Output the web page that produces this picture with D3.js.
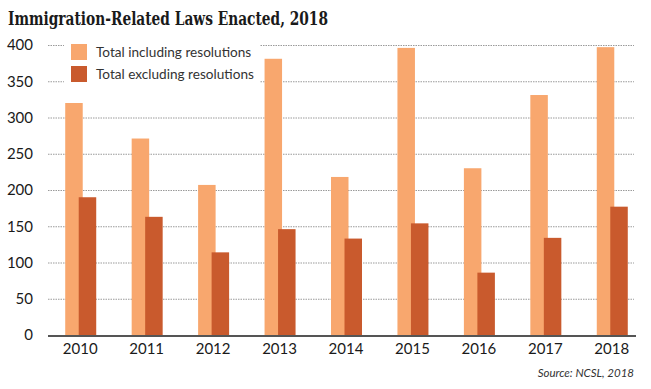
<!DOCTYPE html>
<html>
<head>
<meta charset="utf-8">
<script src="https://cdn.jsdelivr.net/npm/d3@7"></script>
<style>
    body { margin: 0; background: #fff; }
    svg { display: block; }
</style>
</head>
<body>
<svg id="chart" width="651" height="389"></svg>
<script>
/* chart data */
const years = ["2010", "2011", "2012", "2013", "2014", "2015", "2016", "2017", "2018"];
const totalIncluding = [320, 271, 207, 381, 218, 396, 230, 331, 397];
const totalExcluding = [190, 163, 114, 146, 133, 154, 86, 134, 177];
const yTicks = [0, 50, 100, 150, 200, 250, 300, 350, 400];
const seriesNames = ["Total including resolutions", "Total excluding resolutions"];

const colors = { light: "#F8A76E", dark: "#C95A2D" };
const font = "Lato, 'Open Sans', sans-serif";

const svg = d3.select("#chart");

const x = d3
    .scaleBand()
    .domain(years)
    .range([47, 645])
    .paddingInner(0)
    .paddingOuter(0);

const y = d3
    .scaleLinear()
    .domain([0, 400])
    .range([335, 45]);

// title
svg.append("text")
    .attr("x", 8)
    .attr("y", 25)
    .attr("font-family", "'DejaVu Serif', serif")
    .attr("font-weight", "bold")
    .attr("font-size", "19px")
    .attr("textLength", 320)
    .attr("lengthAdjust", "spacingAndGlyphs")
    .attr("fill", "#1a1a1a")
    .text("Immigration-Related Laws Enacted, 2018");

// gridlines
svg.append("g")
    .selectAll("line")
    .data(yTicks.filter(d => d > 0))
    .join("line")
    .attr("x1", 48)
    .attr("x2", 634)
    .attr("y1", d => y(d) + 0.5)
    .attr("y2", d => y(d) + 0.5)
    .attr("stroke", "#9a9a9a")
    .attr("stroke-width", 1)
    .attr("stroke-dasharray", "1.5,1");

// y axis labels
const yAxis = d3.axisLeft(y).tickValues(yTicks).tickSize(0).tickPadding(0);
svg.append("g")
    .attr("transform", "translate(33,0)")
    .call(yAxis)
    .call(g => g.select(".domain").remove())
    .selectAll("text")
    .attr("font-family", font)
    .attr("font-size", "15px")
    .attr("fill", "#1a1a1a");

// legend background (hides gridlines)
svg.append("rect")
    .attr("x", 64)
    .attr("y", 38)
    .attr("width", 196)
    .attr("height", 50)
    .attr("fill", "#fff");

const barW = 17.5;
const offset = 13.5;
const cx = d => x(d) + x.bandwidth() / 2;

// bars
svg.append("g")
    .selectAll("rect")
    .data(years)
    .join("rect")
    .attr("x", (d) => cx(d) - 15)
    .attr("y", (d, i) => y(totalIncluding[i]))
    .attr("width", barW)
    .attr("height", (d, i) => y(0) - y(totalIncluding[i]))
    .attr("fill", colors.light);

svg.append("g")
    .selectAll("rect")
    .data(years)
    .join("rect")
    .attr("x", (d) => cx(d) - 15 + offset)
    .attr("y", (d, i) => y(totalExcluding[i]))
    .attr("width", barW)
    .attr("height", (d, i) => y(0) - y(totalExcluding[i]))
    .attr("fill", colors.dark);

// baseline
svg.append("line")
    .attr("x1", 48)
    .attr("x2", 636)
    .attr("y1", y(0) + 1)
    .attr("y2", y(0) + 1)
    .attr("stroke", "#555")
    .attr("stroke-width", 2);

// x axis labels
const xAxis = d3.axisBottom(x).tickSize(0).tickPadding(0);
svg.append("g")
    .attr("transform", `translate(0,${y(0) + 5})`)
    .call(xAxis)
    .call(g => g.select(".domain").remove())
    .selectAll("text")
    .attr("dy", "0.9em")
    .attr("font-family", font)
    .attr("font-size", "15px")
    .attr("fill", "#1a1a1a");

// legend
const legend = svg.append("g").attr("transform", "translate(71,44)");
[colors.light, colors.dark].forEach((c, i) => {
    legend.append("rect")
        .attr("x", 0)
        .attr("y", i * 22)
        .attr("width", 16)
        .attr("height", 16)
        .attr("fill", c);
    legend.append("text")
        .attr("x", 25)
        .attr("y", i * 22 + 13)
        .attr("font-family", font)
        .attr("font-size", "13.6px")
        .attr("fill", "#333")
        .text(seriesNames[i]);
});

// source
svg.append("text")
    .attr("x", 634)
    .attr("y", 377)
    .attr("text-anchor", "end")
    .attr("font-family", font)
    .attr("font-style", "italic")
    .attr("font-size", "11.5px")
    .attr("fill", "#333")
    .text("Source: NCSL, 2018");
</script>
</body>
</html>
